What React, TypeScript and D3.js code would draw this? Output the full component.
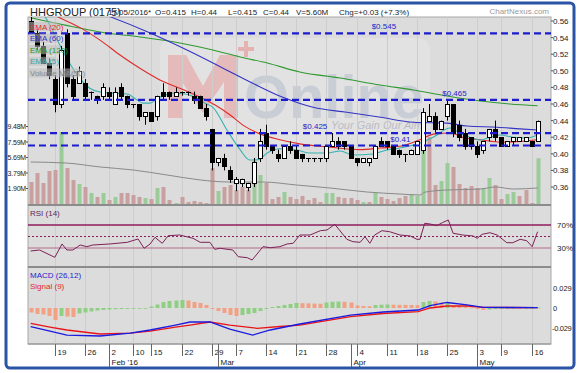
import * as d3 from "d3";

// daily OHLC, one entry per trading day (13 Jan .. 17 May 2016)
const opens = [
  0.56, 0.545, 0.53, 0.51, 0.49, 0.46, 0.545, 0.49, 0.485, 0.485,
  0.475, 0.47, 0.47, 0.475, 0.46, 0.48, 0.47, 0.46, 0.46, 0.445,
  0.45, 0.445, 0.475, 0.475, 0.47, 0.475, 0.475, 0.47, 0.47, 0.455,
  0.43, 0.39, 0.395, 0.38, 0.365, 0.365, 0.36, 0.365, 0.395, 0.425,
  0.41, 0.4, 0.395, 0.41, 0.405, 0.4, 0.395, 0.395, 0.395, 0.395,
  0.41, 0.415, 0.415, 0.41, 0.395, 0.39, 0.39, 0.395, 0.415, 0.415,
  0.41, 0.405, 0.4, 0.4, 0.4, 0.405, 0.44, 0.445, 0.43, 0.445,
  0.46, 0.435, 0.425, 0.42, 0.41, 0.405, 0.42, 0.43, 0.42, 0.41,
  0.415, 0.415, 0.415, 0.415, 0.415,
];
const highs = [
  0.565, 0.55, 0.535, 0.515, 0.495, 0.53, 0.55, 0.495, 0.505, 0.49,
  0.475, 0.47, 0.485, 0.48, 0.48, 0.485, 0.47, 0.46, 0.46, 0.45,
  0.45, 0.47, 0.485, 0.475, 0.48, 0.475, 0.475, 0.475, 0.47, 0.46,
  0.43, 0.395, 0.4, 0.385, 0.372, 0.37, 0.365, 0.395, 0.43, 0.435,
  0.41, 0.405, 0.41, 0.415, 0.41, 0.4, 0.395, 0.395, 0.395, 0.41,
  0.425, 0.42, 0.415, 0.41, 0.395, 0.395, 0.395, 0.41, 0.42, 0.415,
  0.41, 0.405, 0.4, 0.405, 0.415, 0.455, 0.46, 0.45, 0.44, 0.465,
  0.46, 0.44, 0.43, 0.42, 0.415, 0.415, 0.43, 0.44, 0.42, 0.415,
  0.42, 0.42, 0.42, 0.415, 0.44,
];
const lows = [
  0.545, 0.525, 0.51, 0.49, 0.45, 0.455, 0.48, 0.465, 0.485, 0.465,
  0.465, 0.46, 0.465, 0.465, 0.46, 0.465, 0.455, 0.455, 0.44, 0.435,
  0.44, 0.44, 0.465, 0.465, 0.47, 0.47, 0.47, 0.46, 0.455, 0.44,
  0.38, 0.385, 0.38, 0.365, 0.355, 0.36, 0.355, 0.36, 0.39, 0.405,
  0.4, 0.39, 0.395, 0.4, 0.395, 0.39, 0.39, 0.39, 0.39, 0.39,
  0.41, 0.405, 0.405, 0.395, 0.385, 0.39, 0.385, 0.395, 0.41, 0.405,
  0.4, 0.395, 0.39, 0.4, 0.4, 0.4, 0.44, 0.425, 0.43, 0.44,
  0.42, 0.415, 0.405, 0.405, 0.395, 0.4, 0.415, 0.415, 0.41, 0.41,
  0.41, 0.415, 0.415, 0.41, 0.415,
];
const closes = [
  0.545, 0.53, 0.51, 0.495, 0.46, 0.525, 0.485, 0.47, 0.5, 0.47,
  0.475, 0.465, 0.48, 0.47, 0.475, 0.47, 0.46, 0.46, 0.445, 0.45,
  0.44, 0.47, 0.47, 0.47, 0.475, 0.475, 0.475, 0.465, 0.455, 0.445,
  0.39, 0.395, 0.385, 0.37, 0.37, 0.37, 0.365, 0.39, 0.415, 0.41,
  0.405, 0.395, 0.41, 0.405, 0.395, 0.395, 0.395, 0.395, 0.395, 0.41,
  0.415, 0.41, 0.41, 0.395, 0.39, 0.395, 0.395, 0.41, 0.41, 0.41,
  0.4, 0.4, 0.4, 0.405, 0.415, 0.45, 0.445, 0.43, 0.44, 0.46,
  0.425, 0.42, 0.41, 0.41, 0.4, 0.415, 0.43, 0.42, 0.41, 0.415,
  0.42, 0.42, 0.42, 0.41, 0.44,
];
// volume in millions of shares
const volumes = [
  2.69, 3.79, 2.57, 4.04, 4.16, 8.81, 4.4, 2.94, 2.45, 2.08,
  1.35, 0.86, 1.35, 0.49, 0.86, 1.35, 1.35, 1.1, 0.86, 0.73,
  0.61, 1.96, 2.08, 0.49, 0.12, 0.86, 0.24, 0.37, 0.24, 0.12,
  4.4, 1.59, 2.08, 2.32, 1.71, 2.08, 1.71, 5.26, 3.55, 2.57,
  0.61, 0.86, 1.47, 0.86, 0.61, 0.98, 0.49, 0.73, 0.24, 1.35,
  1.35, 0.86, 0.73, 0.73, 0.49, 0.24, 0.24, 1.35, 0.86, 0.61,
  0.37, 0.73, 0.98, 1.22, 0.98, 10.6, 8.19, 2.32, 2.81, 5.01,
  4.53, 2.45, 1.96, 2.2, 1.96, 1.96, 3.18, 2.32, 0.61, 1.22,
  1.47, 0.98, 1.71, 0.12, 5.6,
];

// indicator lines: [day index, value]
const ema5: [number, number][] = [
  [0, 0.58], [2.4, 0.565], [4, 0.543], [5.7, 0.519], [7.7, 0.495], [9.8, 0.479], [11.5, 0.4745],
  [14, 0.473], [16, 0.472], [17.6, 0.465], [18.6, 0.461], [19.8, 0.461], [20.9, 0.466], [22.3, 0.471],
  [23.6, 0.473], [25.6, 0.472], [27.2, 0.468], [28.9, 0.461], [30.2, 0.456], [32.5, 0.429], [34.7, 0.405],
  [36.3, 0.3925], [37.7, 0.393], [39.2, 0.401], [41.3, 0.406], [44.1, 0.4046], [46.3, 0.401], [49.1, 0.401],
  [51.3, 0.4034], [53.4, 0.3986], [56.7, 0.3998], [59, 0.4046], [61.2, 0.407], [64.5, 0.413], [66.7, 0.42],
  [69.5, 0.431], [71.1, 0.425], [72.8, 0.42], [74.5, 0.4166], [76.1, 0.42], [77.8, 0.4226], [79.9, 0.42],
  [82.2, 0.419], [84, 0.4226],
];
const ema20: [number, number][] = [
  [0, 0.583], [4.5, 0.565], [8.2, 0.552], [11.5, 0.537], [14.8, 0.519], [18.1, 0.503], [21.4, 0.489],
  [24.7, 0.479], [28.1, 0.468], [30.5, 0.459], [33, 0.447], [35.5, 0.433], [38, 0.424], [41.3, 0.417],
  [44.6, 0.412], [49.6, 0.408], [54.6, 0.405], [58, 0.407], [61.2, 0.409], [64.5, 0.417], [67, 0.424],
  [69.5, 0.425], [72, 0.419], [74.5, 0.417], [77.8, 0.414], [81.1, 0.415], [84, 0.417],
];
const ema60: [number, number][] = [
  [0, 0.595], [13.2, 0.565], [19.8, 0.5455], [25.9, 0.525], [31.4, 0.505], [36.8, 0.485], [41.8, 0.468],
  [46.8, 0.456], [52.4, 0.45], [58, 0.444], [63.4, 0.438], [69, 0.437], [72.3, 0.4335], [77.3, 0.432],
  [81.1, 0.43], [84, 0.4287],
];
const ema120: [number, number][] = [
  [0, 0.564], [5.7, 0.555], [11.5, 0.5467], [18.1, 0.5407], [24.7, 0.5335], [30.2, 0.525], [34.7, 0.5166],
  [39.2, 0.5094], [44.6, 0.4986], [51.3, 0.4913], [57.9, 0.4829], [63.4, 0.4769], [69, 0.4696],
  [74.5, 0.4636], [79.4, 0.46], [84, 0.4578],
];
const volumeMa50: [number, number][] = [
  [0, 5.14], [6, 5.01], [11.5, 4.53], [17, 4.16], [22.6, 3.55], [28.1, 2.94], [33, 2.69], [38.5, 2.69],
  [44.1, 2.32], [49.6, 1.96], [55.7, 1.47], [61.2, 1.22], [64.5, 1.1], [65.3, 1.45], [69, 1.71],
  [74.5, 1.83], [77, 2.08], [80, 1.83], [84, 1.96],
];
const rsi14: [number, number][] = [
  [0, 24.8], [1.5, 26.5], [3.2, 17.8], [4, 13.8], [5.2, 37], [6, 26.5], [7, 26.5], [8.2, 35.2], [9.3, 32.3],
  [10.3, 35.2], [13.1, 37], [16, 39.9], [17.8, 45.7], [18.8, 29.5], [19.8, 37], [20.6, 48.6], [21.8, 38.2],
  [22.8, 51.4], [24.7, 52.6], [26.9, 46.9], [28.1, 39.9], [29.7, 39.9], [30.5, 27.7], [31.4, 29.5],
  [33.5, 26.5], [34.4, 14.9], [35.9, 13.1], [36.7, 9.1], [38.5, 32.3], [39.7, 30.5], [41.3, 32.3],
  [42.5, 37], [43.5, 38.2], [44.6, 52.6], [46.3, 52.6], [48, 60.1], [49.1, 61.3], [50.4, 71.2],
  [52.4, 45.1], [53.4, 41], [54.6, 39.9], [55.4, 49.7], [56.2, 38.2], [57, 52.6], [58.2, 60.1],
  [59.5, 58.3], [61.2, 52.6], [62.9, 50.9], [64, 45.1], [64.5, 45.1], [65.3, 73], [66.2, 71.7],
  [67.3, 68.8], [68.2, 74], [69.2, 78.7], [70, 55.6], [71.6, 52.6], [73.3, 50.9], [74, 46.9],
  [74.8, 53.8], [76.1, 56.6], [77.3, 52.6], [78.9, 39.2], [79.9, 39.2], [81.1, 45.1], [82.2, 42.7],
  [83.1, 32.3], [84, 58.3],
];
const macdLine: [number, number][] = [
  [0, -0.0271], [3.2, -0.0334], [6, -0.0392], [11.5, -0.0406], [16.5, -0.0363], [19.8, -0.0319],
  [24, -0.0247], [26.4, -0.0203], [29.7, -0.0203], [33, -0.0305], [36.8, -0.0392], [39.7, -0.0319],
  [44.6, -0.0232], [53, -0.0102], [58.4, -0.0058], [64.2, -0.0029], [66.2, 0.0036], [69, 0.008],
  [72.3, 0.0044], [75, 0.001], [84, 0.0004],
];
const signalLine: [number, number][] = [
  [0, -0.0222], [3.2, -0.0276], [6, -0.0319], [11.5, -0.0377], [16.5, -0.0363], [19.8, -0.0334],
  [24, -0.0276], [26.4, -0.0247], [29.7, -0.0203], [33, -0.0247], [37.5, -0.0294], [41.3, -0.0268],
  [44.6, -0.0247], [53, -0.0126], [58.4, -0.008], [64.2, -0.0054], [66.2, 0], [69, 0.0029],
  [72.3, 0.0029], [75, 0.001], [84, 0.0004],
];
const macdHist = [
  -0.0065, -0.0087, -0.0094, -0.0116, -0.0174, -0.0116, -0.0123, -0.0131, -0.008, -0.0065,
  -0.0051, -0.0036, -0.0029, -0.0022, -0.0017, -0.0015, -0.0012, -0.0009, -0.0006, -0.0003,
  0.0022, 0.0051, 0.0087, 0.0102, 0.0109, 0.0116, 0.0109, 0.0087, 0.0073, 0.0044,
  -0.0015, -0.0044, -0.0073, -0.0102, -0.0116, -0.0102, -0.0087, -0.0073, -0.0044, -0.0015,
  0.0015, 0.0029, 0.0044, 0.0058, 0.0073, 0.007, 0.0067, 0.0064, 0.0061, 0.008,
  0.0091, 0.0094, 0.009, 0.008, 0.0036, 0.0029, 0.0026, 0.0044, 0.0048, 0.0051,
  0.0048, 0.0046, 0.0045, 0.0044, 0.0041, 0.0087, 0.0102, 0.0094, 0.008, 0.0087,
  0.0029, 0.0022, 0.0015, 0.0007, -0.0015, -0.0029, -0.0022, -0.0015, -0.0012, -0.0007,
  -0.0004, -0.0006, -0.0004, -0.0003, 0.0007,
];

const tickIndex = [4, 9, 13, 17, 20, 25, 30, 34, 39, 44, 49, 54, 59, 64, 69, 74, 78, 83];
const tickLabels = ["19", "26", "2", "10", "15", "22", "29", "7", "14", "21", "28", "4", "11", "18", "25", "3", "9", "16"];
const monthIndex = [13, 31, 53, 74];
const monthLabels = ["Feb '16", "Mar", "Apr", "May"];
const priceTicks = [0.36, 0.38, 0.4, 0.42, 0.44, 0.46, 0.48, 0.5, 0.52, 0.54, 0.56];
const volumeMax = 9.484;
const levels = [0.545, 0.465, 0.425, 0.41];
const levelLabelAt = [56.5, 68.2, 45.1, 59.6];
const lastDate = "17/05/2016";

const FONT = "'Liberation Sans', Arial, sans-serif";

export default function App() {
  const left = 28;
  const right = 551;
  const pTop = 17;
  const pBot = 205;
  const rBot = 267;
  const mBot = 344;
  const n = closes.length;

  const x = d3.scaleLinear().domain([0, n - 1]).range([30.66, 537.6]);
  const yP = d3.scaleLinear().domain([0.36, 0.56]).range([187, 21]);
  const yV = d3.scaleLinear().domain([0, volumeMax]).range([204, 126.5]);
  const yR = d3.scaleLinear().domain([30, 70]).range([248, 225]);
  const yM = d3.scaleLinear().domain([-0.029, 0.029]).range([328, 288]);

  const smooth = (ys: d3.ScaleLinear<number, number>) =>
    d3.line<[number, number]>().x((d) => x(d[0])).y((d) => ys(d[1])).curve(d3.curveMonotoneX);
  const straight = (ys: d3.ScaleLinear<number, number>) =>
    d3.line<[number, number]>().x((d) => x(d[0])).y((d) => ys(d[1]));
  const px = (i: number) => Math.round(x(i)) + 0.5;

  const last = n - 1;
  const chg = closes[last] - closes[last - 1];
  const volTicks = d3.range(1, 6).map((k) => (k * volumeMax) / 5);

  return (
    <svg
      width={581}
      height={373}
      viewBox="0 0 581 373"
      style={{ position: "absolute", left: 0, top: 0, fontFamily: FONT }}
    >
      <defs>
        <clipPath id="clipP">
          <rect x={left} y={pTop} width={right - left} height={pBot - pTop} />
        </clipPath>
        <clipPath id="clipR">
          <rect x={left} y={pBot} width={right - left} height={rBot - pBot} />
        </clipPath>
        <clipPath id="clipM">
          <rect x={left} y={rBot} width={right - left} height={mBot - rBot} />
        </clipPath>
      </defs>
      <rect x={0} y={0} width={581} height={373} fill="#fff" />
      <rect x={6} y={3} width={568} height={365} rx={4} fill="#fff" stroke="#2b54a6" strokeWidth={3} />

      {/* header */}
      <text x={30} y={15.5} fontSize={11} fill="#222">HHGROUP (0175)</text>
      <text x={108} y={15} fontSize={8} fill="#222">{lastDate}*</text>
      <text x={155} y={15} fontSize={8} fill="#222">O={opens[last]}</text>
      <text x={191} y={15} fontSize={8} fill="#222">H={highs[last]}</text>
      <text x={228} y={15} fontSize={8} fill="#222">L={lows[last]}</text>
      <text x={263} y={15} fontSize={8} fill="#222">C={closes[last]}</text>
      <text x={296} y={15} fontSize={8} fill="#222">V={volumes[last].toFixed(2)}M</text>
      <text x={339} y={15} fontSize={8} fill="#222">
        Chg=+{chg.toFixed(2)} (+{((chg / closes[last - 1]) * 100).toFixed(1)}%)
      </text>
      <text x={549} y={14} fontSize={8} fill="#9a9a9a" textAnchor="end">ChartNexus.com</text>

      {/* panel backgrounds */}
      <rect x={left} y={pTop} width={right - left} height={mBot - pTop} fill="#dcdcdc" stroke="#a8a8a8" strokeWidth={1} />

      {/* watermark */}
      <g clipPath="url(#clipP)">
        <rect x={160} y={38} width={270} height={106} rx={12} fill="#e2e2e2" />
        <path d="M168,118 L168,55 L186,55 L203,86 L220,55 L238,55 L238,118 L224,118 L224,82 L203,113 L182,82 L182,118 Z" fill="#e6a9a9" opacity={0.7} />
        <path d="M238,47 h6 v-6 h4 v6 h6 v4 h-6 v6 h-4 v-6 h-6 Z" fill="#e6a0a0" opacity={0.75} />
        <text x={244} y={118} fontSize={62} fontWeight="bold" fill="#b9c0cf" opacity={0.6} textLength={180} lengthAdjust="spacingAndGlyphs">
          Online
        </text>
        <text x={331} y={129} fontSize={11} fontStyle="italic" fill="#bcbcc4">Your Gain Our Aim</text>
      </g>

      {/* vertical grid */}
      {tickIndex.map((t) => (
        <line key={`g${t}`} x1={px(t)} x2={px(t)} y1={pTop} y2={mBot} stroke="#cdcdcd" strokeWidth={1} />
      ))}

      {/* volume */}
      <g clipPath="url(#clipP)">
        {volumes.map((v, i) => {
          const up = i > 0 && closes[i] > closes[i - 1];
          return (
            <rect key={`v${i}`} x={Math.round(x(i)) - 1.5} y={yV(v)} width={4} height={yV(0) - yV(v)} fill={up ? "#9ccb9a" : "#c9a0a0"} />
          );
        })}
        <path d={smooth(yV)(volumeMa50) ?? ""} fill="none" stroke="#8a8a8a" strokeWidth={1} />
      </g>

      {/* moving averages */}
      <g clipPath="url(#clipP)" fill="none" strokeWidth={1.1}>
        <path d={smooth(yP)(ema120) ?? ""} stroke="#2f9a2f" />
        <path d={smooth(yP)(ema60) ?? ""} stroke="#3434c4" />
        <path d={smooth(yP)(ema20) ?? ""} stroke="#e22a2a" />
        <path d={smooth(yP)(ema5) ?? ""} stroke="#36b2b0" />
      </g>

      {/* candles */}
      <g clipPath="url(#clipP)">
        {closes.map((c, i) => {
          const o = opens[i];
          const cx = px(i);
          const top = Math.round(yP(Math.max(o, c))) + 0.5;
          const bot = Math.round(yP(Math.min(o, c))) + 0.5;
          return (
            <g key={`c${i}`}>
              <line x1={cx} x2={cx} y1={yP(highs[i])} y2={yP(lows[i])} stroke="#000" strokeWidth={1} />
              {o === c ? (
                <line x1={cx - 2.5} x2={cx + 2.5} y1={top} y2={top} stroke="#000" strokeWidth={1} />
              ) : (
                <rect x={cx - 2} y={top} width={4} height={bot - top} fill={c > o ? "#fff" : "#000"} stroke="#000" strokeWidth={1} />
              )}
            </g>
          );
        })}
      </g>

      {/* support / resistance */}
      {levels.map((lv, k) => (
        <g key={`l${lv}`}>
          <line x1={left} x2={right} y1={yP(lv)} y2={yP(lv)} stroke="#1c1cd0" strokeWidth={2.2} strokeDasharray="7 4" />
          <text x={x(levelLabelAt[k])} y={yP(lv) - 4} fontSize={8} fill="#2424c8">${lv}</text>
        </g>
      ))}

      {/* legend */}
      {[
        { t: "EMA (20)", c: "#e22a2a", w: 29 },
        { t: "EMA (60)", c: "#3434c4", w: 29 },
        { t: "EMA (120)", c: "#2f9a2f", w: 31 },
        { t: "EMA (5)", c: "#2fa8a8", w: 26 },
        { t: "Volume MA(50)", c: "#8a8a8a", w: 51 },
      ].map((d, k) => (
        <g key={d.t}>
          <rect x={29} y={22 + k * 11.6} width={d.w} height={9} fill="#bdbdbd" opacity={0.55} />
          <text x={30} y={29.5 + k * 11.6} fontSize={8} fill={d.c}>{d.t}</text>
        </g>
      ))}

      {/* price axis */}
      {priceTicks.map((p) => (
        <g key={`p${p}`}>
          <line x1={right} x2={right + 2} y1={yP(p)} y2={yP(p)} stroke="#555" />
          <text x={553} y={yP(p) + 3} fontSize={8} fill="#222">{p.toFixed(2)}</text>
        </g>
      ))}
      {volTicks.map((v) => (
        <g key={`vt${v}`}>
          <line x1={left - 2} x2={left} y1={yV(v)} y2={yV(v)} stroke="#555" />
          <text x={left - 2} y={yV(v) + 2.5} fontSize={7} fill="#222" textAnchor="end" letterSpacing={-0.2}>{v.toFixed(2)}M</text>
        </g>
      ))}

      {/* RSI panel */}
      <line x1={left} x2={right} y1={pBot} y2={pBot} stroke="#8c8c8c" strokeWidth={2} />
      <text x={30} y={216} fontSize={8} fill="#5a1f5a">RSI (14)</text>
      <line x1={left} x2={right} y1={yR(70)} y2={yR(70)} stroke="#8e1d5c" strokeWidth={1.4} />
      <line x1={left} x2={right} y1={yR(30)} y2={yR(30)} stroke="#b26a8c" strokeWidth={1} />
      <line x1={left} x2={right} y1={yR(50)} y2={yR(50)} stroke="#8e1d5c" strokeWidth={1} strokeDasharray="2 2" />
      <g clipPath="url(#clipR)">
        <path d={straight(yR)(rsi14) ?? ""} fill="none" stroke="#7e2056" strokeWidth={1} />
      </g>
      <text x={557} y={yR(70) + 3} fontSize={8} fill="#222">70%</text>
      <text x={557} y={yR(30) + 3} fontSize={8} fill="#222">30%</text>

      {/* MACD panel */}
      <line x1={left} x2={right} y1={rBot} y2={rBot} stroke="#8c8c8c" strokeWidth={2} />
      <text x={30} y={278} fontSize={8} fill="#2424d0">MACD (26,12)</text>
      <text x={30} y={289} fontSize={8} fill="#e02828">Signal (9)</text>
      <g clipPath="url(#clipM)">
        {macdHist.map((v, i) => {
          const rising = i > 0 && v > macdHist[i - 1];
          const y0 = yM(0);
          const y1 = yM(v);
          return (
            <rect key={`h${i}`} x={Math.round(x(i)) - 1.5} y={Math.min(y0, y1)} width={4} height={Math.max(0.8, Math.abs(y1 - y0))} fill={rising ? "#8fcf83" : "#f2a184"} />
          );
        })}
        <path d={straight(yM)(signalLine) ?? ""} fill="none" stroke="#e8141a" strokeWidth={1.3} />
        <path d={straight(yM)(macdLine) ?? ""} fill="none" stroke="#1a1ae0" strokeWidth={1.3} />
      </g>
      <text x={553} y={yM(0.029) + 3} fontSize={7.5} fill="#222">0.029</text>
      <text x={553} y={yM(0) + 3} fontSize={7.5} fill="#222">0</text>
      <text x={552} y={yM(-0.029) + 3} fontSize={7.5} fill="#222" letterSpacing={-0.3}>-0.029</text>

      {/* x axis */}
      <line x1={left} x2={right} y1={mBot} y2={mBot} stroke="#8c8c8c" strokeWidth={1} />
      {tickIndex.map((t, k) => (
        <g key={`t${t}`}>
          <line x1={px(t)} x2={px(t)} y1={mBot} y2={356} stroke="#666" />
          <text x={px(t) + 2} y={355} fontSize={8} fill="#222">{tickLabels[k]}</text>
        </g>
      ))}
      {monthIndex.map((m, k) => (
        <g key={`m${m}`}>
          <line x1={px(m)} x2={px(m)} y1={mBot} y2={367} stroke="#666" />
          <text x={px(m) + 2} y={365} fontSize={8} fill="#222">{monthLabels[k]}</text>
        </g>
      ))}
    </svg>
  );
}
